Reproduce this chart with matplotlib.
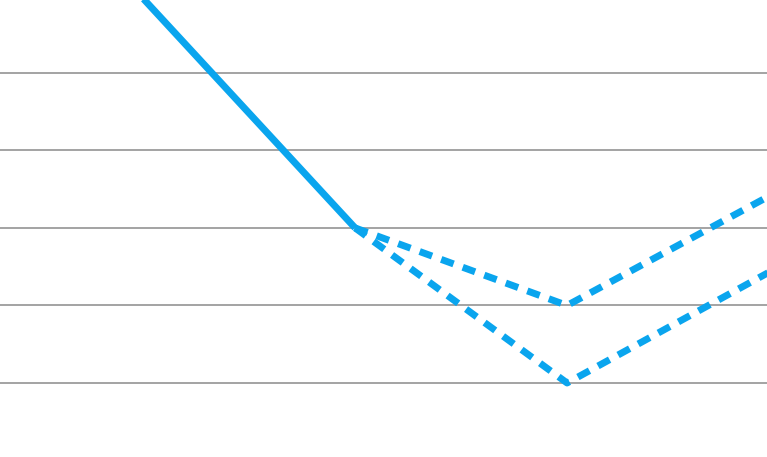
import matplotlib
matplotlib.use("Agg")
import matplotlib.pyplot as plt

# Data
x_solid = [0, 1]
y_solid = [5.96, 3.0]
x_dash = [1, 2, 3]
y_dash_a = [3.0, 2.0, 3.48]
y_dash_b = [3.0, 1.0, 2.5]
grid_vals = [1, 2, 3, 4, 5]

color = '#0AA5EE'

fig = plt.figure(figsize=(7.67, 4.57), dpi=100)
ax = fig.add_axes([0, 0, 1, 1])
ax.set_xlim(-0.675, 2.943)
ax.set_ylim(0.045, 5.94)
for v in grid_vals:
    ax.axhline(v, color='#8a8a8a', lw=1.1, zorder=1)
ax.plot(x_solid, y_solid, color=color, lw=5.0, solid_capstyle='butt', zorder=3)
for yd in (y_dash_a, y_dash_b):
    ax.plot(x_dash, yd, color=color, lw=5.0, dashes=(1.9, 1.4),
            dash_capstyle='butt', zorder=3)
ax.axis('off')
fig.savefig('out.png', dpi=100)
